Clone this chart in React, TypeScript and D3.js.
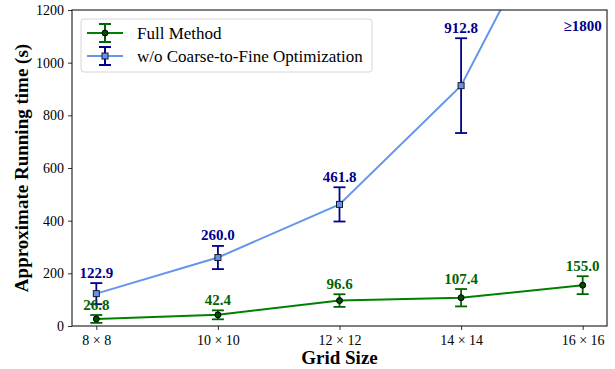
import React, { useEffect, useRef } from "react"
import * as d3 from "d3"

const gridSizes = ["8 × 8", "10 × 10", "12 × 12", "14 × 14", "16 × 16"]
const fullMethod = [26.8, 42.4, 96.6, 107.4, 155.0]
const fullErr = [15, 17, 24, 33, 34]
const noCoarse = [122.9, 260.0, 461.8, 912.8, 1800]
const noCoarseErr = [40, 44, 65, 180, 0]
const yTicks = [0, 200, 400, 600, 800, 1000, 1200]

const FONT = "Liberation Serif, Times New Roman, serif"

export default function App() {
  const ref = useRef<SVGSVGElement>(null)

  useEffect(() => {
    const svg = d3.select(ref.current)
    svg.selectAll("*").remove()

    const margin = { top: 10, right: 8, bottom: 43, left: 72 }
    const width = 615 - margin.left - margin.right
    const height = 369 - margin.top - margin.bottom

    const g = svg.append("g")
      .attr("transform", "translate(" + margin.left + "," + margin.top + ")")

    const x = d3.scaleLinear().domain([-0.2, 4.2]).range([0, width])
    const y = d3.scaleLinear().domain([0, 1200]).range([height, 0])

    svg.append("defs").append("clipPath").attr("id", "plot-clip")
      .append("rect").attr("width", width).attr("height", height)

    // axes
    const xAxis = g.append("g")
      .attr("transform", "translate(0," + height + ")")
      .call(d3.axisBottom(x).tickValues(d3.range(gridSizes.length))
        .tickFormat((d) => gridSizes[d as number]).tickSize(4).tickPadding(5))
    const yAxis = g.append("g")
      .call(d3.axisLeft(y).tickValues(yTicks).tickFormat(d3.format("d")).tickSize(4).tickPadding(4))
    for (const ax of [xAxis, yAxis]) {
      ax.attr("font-family", FONT).attr("font-size", 14)
      ax.select(".domain").remove()
      ax.selectAll("text").style("font-family", FONT).style("font-size", "14px").attr("fill", "#000")
      ax.selectAll("line").attr("stroke", "#000").attr("stroke-width", 0.8)
    }

    const plot = g.append("g").attr("clip-path", "url(#plot-clip)")

    const line = d3.line<number>()
      .x((d, i) => x(i))
      .y((d) => y(d))

    // blue series
    plot.append("path").datum(noCoarse)
      .attr("fill", "none").attr("stroke", "#6495ed").attr("stroke-width", 2)
      .attr("d", line)

    // green series
    plot.append("path").datum(fullMethod)
      .attr("fill", "none").attr("stroke", "#008000").attr("stroke-width", 2)
      .attr("d", line)

    const errBars = (vals: number[], errs: number[], color: string, w: number) => {
      vals.forEach((v, i) => {
        if (!errs[i]) return
        const cx = x(i)
        const y1 = y(v + errs[i])
        const y2 = y(v - errs[i])
        plot.append("line").attr("x1", cx).attr("x2", cx).attr("y1", y1).attr("y2", y2)
          .attr("stroke", color).attr("stroke-width", w)
        for (const yy of [y1, y2]) {
          plot.append("line").attr("x1", cx - 6).attr("x2", cx + 6).attr("y1", yy).attr("y2", yy)
            .attr("stroke", color).attr("stroke-width", w)
        }
      })
    }
    errBars(noCoarse, noCoarseErr, "#00008b", 1.8)
    errBars(fullMethod, fullErr, "#006400", 1.8)

    // markers
    noCoarse.forEach((v, i) => {
      plot.append("rect").attr("x", x(i) - 3).attr("y", y(v) - 3)
        .attr("width", 6).attr("height", 6)
        .attr("fill", "#6495ed").attr("stroke", "#1a1a2e").attr("stroke-width", 1)
    })
    fullMethod.forEach((v, i) => {
      plot.append("circle").attr("cx", x(i)).attr("cy", y(v)).attr("r", 3)
        .attr("fill", "#004d00").attr("stroke", "#000").attr("stroke-width", 1)
    })

    // value labels
    noCoarse.forEach((v, i) => {
      if (v > 1200) {
        g.append("text").attr("x", x(i)).attr("y", 21).attr("text-anchor", "middle")
          .style("font-family", FONT).style("font-size", "15px").attr("font-weight", "bold")
          .attr("fill", "#00008b").text("≥" + v)
        return
      }
      g.append("text").attr("x", x(i)).attr("y", y(v + noCoarseErr[i]) - 5.5)
        .attr("text-anchor", "middle").style("font-family", FONT).style("font-size", "15px")
        .attr("font-weight", "bold").attr("fill", "#00008b").text(v.toFixed(1))
    })
    fullMethod.forEach((v, i) => {
      g.append("text").attr("x", x(i)).attr("y", y(v + fullErr[i]) - 5)
        .attr("text-anchor", "middle").style("font-family", FONT).style("font-size", "15px")
        .attr("font-weight", "bold").attr("fill", "#006400").text(v.toFixed(1))
    })

    // frame
    g.append("rect").attr("width", width).attr("height", height)
      .attr("fill", "none").attr("stroke", "#000").attr("stroke-width", 1)

    // axis titles
    svg.append("text")
      .attr("transform", "translate(" + (margin.left + width / 2) + "," + 364 + ")")
      .attr("text-anchor", "middle").style("font-family", FONT).style("font-size", "19px")
      .attr("font-weight", "bold").text("Grid Size")
    svg.append("text")
      .attr("transform", "translate(28," + (margin.top + height / 2) + ") rotate(-90)")
      .attr("text-anchor", "middle").style("font-family", FONT).style("font-size", "19px")
      .attr("font-weight", "bold").text("Approximate Running time (s)")

    // legend
    const lg = g.append("g").attr("transform", "translate(9,9)")
    lg.append("rect").attr("width", 291).attr("height", 53).attr("rx", 3)
      .attr("fill", "#fff").attr("fill-opacity", 0.8).attr("stroke", "#d6d6d6")
    const entries = [
      { label: "Full Method", line: "#008000", err: "#006400", marker: "circle" },
      { label: "w/o Coarse-to-Fine Optimization", line: "#6495ed", err: "#00008b", marker: "square" },
    ]
    entries.forEach((e, i) => {
      const cy = 14 + i * 23
      lg.append("line").attr("x1", 6).attr("x2", 42).attr("y1", cy).attr("y2", cy)
        .attr("stroke", e.line).attr("stroke-width", 2)
      lg.append("line").attr("x1", 24).attr("x2", 24).attr("y1", cy - 9).attr("y2", cy + 9)
        .attr("stroke", e.err).attr("stroke-width", 2)
      for (const yy of [cy - 9, cy + 9]) {
        lg.append("line").attr("x1", 18).attr("x2", 30).attr("y1", yy).attr("y2", yy)
          .attr("stroke", e.err).attr("stroke-width", 2)
      }
      if (e.marker === "circle") {
        lg.append("circle").attr("cx", 24).attr("cy", cy).attr("r", 3)
          .attr("fill", "#004d00").attr("stroke", "#000")
      } else {
        lg.append("rect").attr("x", 21).attr("y", cy - 3).attr("width", 6).attr("height", 6)
          .attr("fill", "#6495ed").attr("stroke", "#1a1a2e")
      }
      lg.append("text").attr("x", 56).attr("y", cy + 6)
        .style("font-family", FONT).style("font-size", "17px").text(e.label)
    })
  }, [])

  return (
    <svg ref={ref} width={615} height={369}
      style={{ position: "absolute", left: 0, top: 0, background: "#fff" }} />
  )
}
